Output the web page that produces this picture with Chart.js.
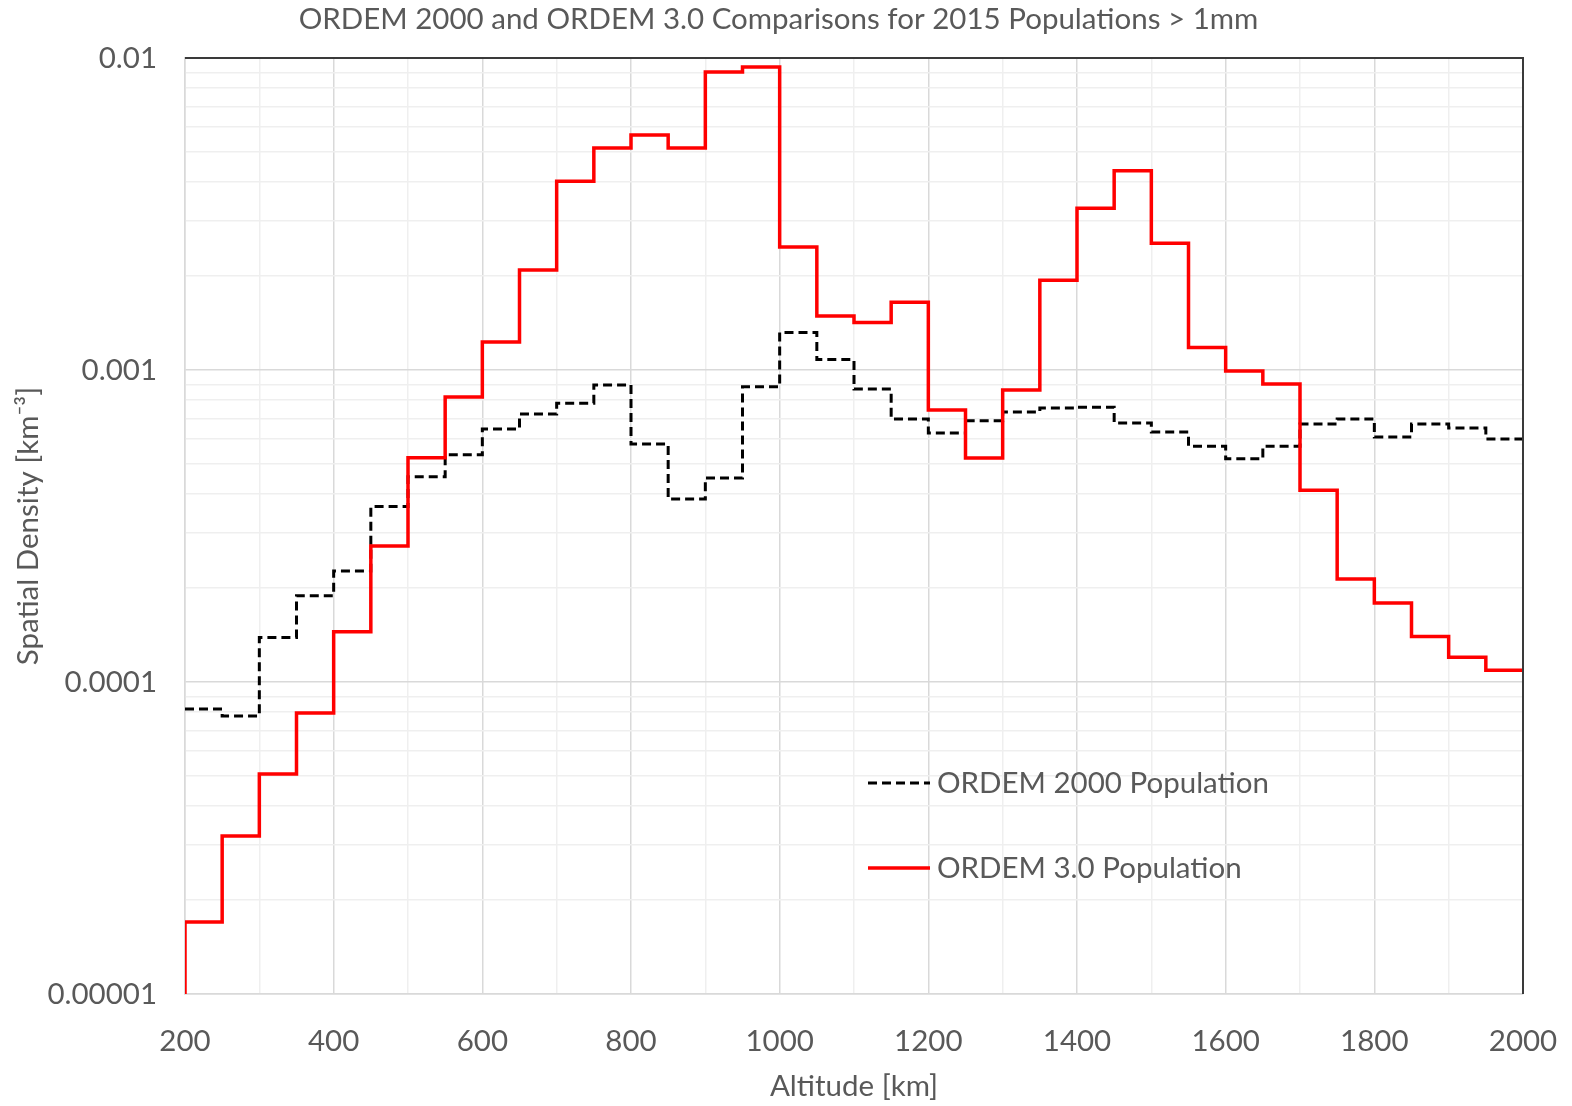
<!DOCTYPE html>
<html>
<head>
<meta charset="utf-8">
<script src="https://cdn.jsdelivr.net/npm/chart.js@4/dist/chart.umd.min.js"></script>
<style>
  html, body { margin: 0; padding: 0; background: #ffffff; }
  #wrap { width: 1572px; height: 1106px; position: relative; }
</style>
</head>
<body>
<div id="wrap"><canvas id="c" width="1572" height="1106"></canvas></div>
<script>
// ---- data ----
const binStarts = [200,250,300,350,400,450,500,550,600,650,700,750,800,850,900,950,1000,1050,1100,1150,1200,1250,1300,1350,1400,1450,1500,1550,1600,1650,1700,1750,1800,1850,1900,1950];
const binWidth = 50;
const ordem3 = [1.70e-5,3.21e-5,5.07e-5,7.96e-5,1.45e-4,2.73e-4,5.23e-4,8.19e-4,1.23e-3,2.09e-3,4.03e-3,5.15e-3,5.67e-3,5.15e-3,9.02e-3,9.36e-3,2.48e-3,1.49e-3,1.42e-3,1.65e-3,7.45e-4,5.22e-4,8.63e-4,1.94e-3,3.30e-3,4.35e-3,2.55e-3,1.18e-3,9.93e-4,9.02e-4,4.12e-4,2.14e-4,1.79e-4,1.40e-4,1.20e-4,1.09e-4];
const ordem2000 = [8.19e-5,7.78e-5,1.39e-4,1.89e-4,2.27e-4,3.65e-4,4.55e-4,5.35e-4,6.47e-4,7.23e-4,7.83e-4,8.95e-4,5.79e-4,3.86e-4,4.51e-4,8.83e-4,1.32e-3,1.08e-3,8.69e-4,6.97e-4,6.28e-4,6.87e-4,7.33e-4,7.55e-4,7.60e-4,6.76e-4,6.33e-4,5.70e-4,5.19e-4,5.70e-4,6.71e-4,6.97e-4,6.10e-4,6.71e-4,6.52e-4,6.01e-4];
const ordem3Start = 1e-5;          // red trace rises from the axis floor at 200 km
const seriesNames = ['ORDEM 3.0 Population', 'ORDEM 2000 Population'];
const yTickDecades = [1e-5, 1e-4, 1e-3, 1e-2];
const yTickLabels = ['0.00001', '0.0001', '0.001', '0.01'];
const yMinorMultipliers = [2,3,4,5,6,7,8,9];
const xMin = 200, xMax = 2000, xStep = 100, xLabelStep = 200;
const titleText = 'ORDEM 2000 and ORDEM 3.0 Comparisons for 2015 Populations > 1mm';
const xTitle = 'Altitude [km]';
const yTitle = 'Spatial Density [km\u207B\u00B3]';

// ---- build step points (Chart.js stepped: 'after' = vertical at previous x, then horizontal) ----
function stepPoints(values, startVal) {
  const pts = [{x: binStarts[0], y: startVal}];
  values.forEach((v, i) => pts.push({x: binStarts[i] + binWidth, y: v}));
  return pts;
}

const FONT = 'Lato, "Open Sans", "Liberation Sans", sans-serif';
const TXT = '#595959';
const FS = 29.5;

const yTickValues = [];
yTickDecades.forEach((d, i) => {
  yTickValues.push(d);
  if (i < yTickDecades.length - 1) yMinorMultipliers.forEach(m => yTickValues.push(+(m * d).toPrecision(3)));
});

const legendPlugin = {
  id: 'customLegendAndFrame',
  afterLayout(chart) {
    if (chart.titleBlock) { chart.titleBlock.left = 0; chart.titleBlock.right = 1557; }
  },
  afterDraw(chart) {
    const ctx = chart.ctx;
    const a = chart.chartArea;
    ctx.save();
    // dark frame on top and right
    ctx.strokeStyle = '#3a3a3a';
    ctx.lineWidth = 2;
    ctx.beginPath();
    ctx.moveTo(a.left, a.top);
    ctx.lineTo(a.right, a.top);
    ctx.lineTo(a.right, a.bottom);
    ctx.stroke();
    // legend
    const items = [
      {ds: chart.data.datasets[1], y: 783},
      {ds: chart.data.datasets[0], y: 868}
    ];
    ctx.font = FS + 'px ' + FONT;
    ctx.textBaseline = 'middle';
    ctx.textAlign = 'left';
    items.forEach(it => {
      ctx.strokeStyle = it.ds.borderColor;
      ctx.lineWidth = it.ds.borderWidth;
      ctx.setLineDash(it.ds.borderDash || []);
      ctx.beginPath();
      ctx.moveTo(868, it.y);
      ctx.lineTo(930, it.y);
      ctx.stroke();
      ctx.setLineDash([]);
      ctx.fillStyle = TXT;
      ctx.fillText(it.ds.label, 937, it.y);
    });
    ctx.restore();
  }
};

new Chart(document.getElementById('c'), {
  type: 'line',
  data: {
    datasets: [
      {
        label: seriesNames[0],
        data: stepPoints(ordem3, ordem3Start),
        borderColor: '#ff0000',
        borderWidth: 3.5,
        stepped: 'after',
        pointRadius: 0,
        fill: false,
        order: 0
      },
      {
        label: seriesNames[1],
        data: stepPoints(ordem2000, ordem2000[0]),
        borderColor: '#000000',
        borderWidth: 3,
        borderDash: [9, 5],
        stepped: 'after',
        pointRadius: 0,
        fill: false,
        order: 1
      }
    ]
  },
  options: {
    responsive: false,
    animation: false,
    devicePixelRatio: 1,
    layout: { padding: { left: 0, right: 49, top: 0, bottom: 0 } },
    plugins: {
      legend: { display: false },
      tooltip: { enabled: false },
      title: {
        display: true,
        text: titleText,
        color: TXT,
        font: { family: FONT, size: FS, weight: 'normal' },
        padding: { top: 2, bottom: 20.6 }
      }
    },
    scales: {
      x: {
        type: 'linear',
        min: xMin,
        max: xMax,
        afterFit(scale) { scale.height = 112; scale.paddingLeft = 0; scale.paddingRight = 0; },
        ticks: {
          stepSize: xStep,
          autoSkip: false,
          maxRotation: 0,
          color: TXT,
          font: { family: FONT, size: FS },
          padding: 30,
          callback: (v) => (v % xLabelStep === 0 ? String(v) : '')
        },
        grid: {
          drawTicks: false,
          lineWidth: 1.5,
          color: (c) => (c.tick && c.tick.value % xLabelStep === 0 ? '#d9d9d9' : '#efefef')
        },
        border: { display: true, color: '#d9d9d9', width: 1.5 },
        title: {
          display: true,
          text: xTitle,
          color: TXT,
          font: { family: FONT, size: FS },
          padding: { top: 0, bottom: 2 }
        }
      },
      y: {
        type: 'logarithmic',
        min: yTickDecades[0],
        max: yTickDecades[yTickDecades.length - 1],
        afterFit(scale) { scale.width = 185; scale.paddingTop = 0; scale.paddingBottom = 0; },
        afterBuildTicks(scale) { scale.ticks = yTickValues.map(v => ({value: v})); },
        ticks: {
          autoSkip: false,
          color: TXT,
          font: { family: FONT, size: FS },
          padding: 28,
          callback: (v) => {
            const i = yTickDecades.findIndex(d => Math.abs(d - v) / d < 1e-6);
            return i >= 0 ? yTickLabels[i] : '';
          }
        },
        grid: {
          drawTicks: false,
          lineWidth: 1.5,
          color: (c) => {
            if (!c.tick) return '#efefef';
            const v = c.tick.value;
            return yTickDecades.some(d => Math.abs(d - v) / d < 1e-6) ? '#d9d9d9' : '#efefef';
          }
        },
        border: { display: true, color: '#d9d9d9', width: 1.5 },
        title: {
          display: true,
          text: yTitle,
          color: TXT,
          font: { family: FONT, size: FS },
          padding: { top: 11, bottom: 0 }
        }
      }
    }
  },
  plugins: [legendPlugin]
});
</script>
</body>
</html>
